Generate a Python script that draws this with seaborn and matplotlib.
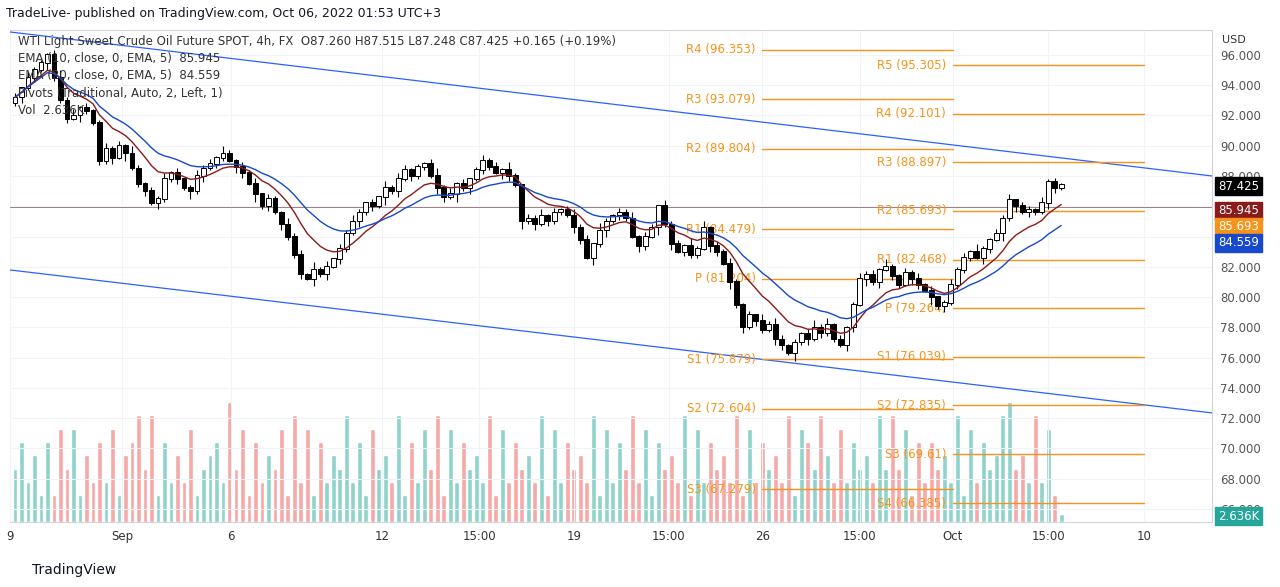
import numpy as np
import pandas as pd
import seaborn as sns
import matplotlib.pyplot as plt

sns.set_theme(style="white")
plt.rcParams['font.family'] = 'DejaVu Sans'

# 4h closes, WTI spot
closes = [93.2, 93.8, 94.5, 95.0, 95.5, 96.0,
          94.5, 93.0, 91.8, 92.0, 92.5, 92.3, 91.5, 89.0,
          89.8, 89.2, 90.0, 89.5, 88.5, 87.5, 87.0, 86.2,
          86.5, 87.8, 88.2, 87.8, 87.2, 87.0, 88.0, 88.5,
          88.8, 89.2, 89.5, 89.0, 88.6, 88.2, 87.5, 86.8, 86.0,
          86.5, 85.6, 84.8, 84.0, 82.8, 81.5,
          81.2, 81.8, 81.5, 82.0,
          82.5, 83.2, 84.2, 85.0, 85.6, 86.2, 86.0, 86.6, 87.2, 87.0,
          87.8, 88.4, 88.0, 88.6, 88.8, 88.0, 87.2, 86.6,
          86.8, 87.5, 87.2, 87.8, 88.4, 89.0,
          88.6, 88.2, 88.4, 88.0, 87.4, 85.0,
          85.2, 84.8, 85.4, 85.0, 85.6, 85.8, 85.4, 84.6, 83.8, 82.6,
          83.5, 84.4, 85.0, 85.4, 85.6, 85.2, 84.0, 83.4, 84.0, 84.6, 86.0,
          84.8, 83.5, 83.0, 83.4, 82.8, 83.2,
          84.6, 83.4, 83.0, 82.2, 81.0, 79.5, 78.0,
          78.8, 78.4, 77.8, 78.2, 77.2, 76.8, 76.3,
          77.0, 77.6, 77.2, 78.0, 77.6, 78.2, 77.2, 76.8, 78.0,
          79.5, 81.2, 81.5, 81.0, 81.8, 82.0, 81.4, 80.8, 81.6, 81.2, 80.8, 80.4, 80.0,
          79.4, 79.6, 80.8, 81.8, 82.6,
          83.0, 82.6, 83.2, 83.8, 84.2, 85.2, 86.4,
          86.0, 85.6, 85.8, 85.6, 86.2, 87.6, 87.2, 87.425]
first_open = 92.8
# wick lengths in tenths of a dollar
wick_hi = ("3142213524131242315213241312423152132413214231524132"
           "4213152431213524131242315213241312423152132413214231"
           "5241324213152431213524131242315213241312423152132413"
           "214231")
wick_lo = ("2413152231421324151231422315241321431523142231524132"
           "1423152413221431524132143152413221431524132143152413"
           "2214315241321431524132214315241321431524132214315241"
           "321431")
# volume (relative units)
volume = ("4635262747253637256848263537245639472635472837263548"
          "3627453826374827364538273645382736453827364837264538"
          "2736453827364538276485373645384847263645382736458945"
          "383727")

piv1 = {"R4": 96.353, "R3": 93.079, "R2": 89.804, "R1": 84.479,
        "P": 81.204, "S1": 75.879, "S2": 72.604, "S3": 67.279}
piv2 = {"R5": 95.305, "R4": 92.101, "R3": 88.897, "R2": 85.693, "R1": 82.468,
        "P": 79.264, "S1": 76.039, "S2": 72.835, "S3": 69.61, "S4": 66.385}
tick_pos = [-0.77, 16.5, 33.2, 56.5, 71.4, 86, 100.6, 115, 130, 144.3, 159, 173.8]
tick_lab = ["9", "Sep", "6", "12", "15:00", "19", "15:00", "26", "15:00", "Oct", "15:00", "10"]

c = np.array(closes)
o = np.r_[first_open, c[:-1]]
hi = np.maximum(o, c) + np.array([int(d) for d in wick_hi[:len(c)]]) / 10
lo = np.minimum(o, c) - np.array([int(d) for d in wick_lo[:len(c)]]) / 10
vol = np.array([int(d) for d in volume[:len(c)]], float)
vol[-1] = 0.6
idx = np.arange(len(c))
df = pd.DataFrame({"i": idx, "ema10": pd.Series(c).ewm(span=10).mean(),
                   "ema20": pd.Series(c).ewm(span=20).mean()})

fig = plt.figure(figsize=(12.8, 5.87), dpi=100)
ax = fig.add_axes([10/1280, 65/587, 1202/1280, 492/587])
xmin, xmax, ymin, ymax = -0.77, 184.2, 65.13, 97.65
ax.set_xlim(xmin, xmax); ax.set_ylim(ymin, ymax)

# volume
axv = ax.twinx()
axv.set_ylim(0, vol.max() * 4.1)
up = c >= o
axv.bar(idx, vol, width=0.75, color=np.where(up, "#8fd3cb", "#f6a9a6"), zorder=1)
axv.axis("off")
ax.set_zorder(axv.get_zorder() + 1); ax.patch.set_visible(False)

for y in range(66, 97, 2):
    ax.axhline(y, color="#f0f3fa", lw=0.8, zorder=0)
for t in tick_pos:
    ax.axvline(t, color="#f0f3fa", lw=0.8, zorder=0)

# channel
ax.plot([xmin, xmax], [97.52, 88.0], color="#2962ff", lw=0.9)
ax.plot([xmin, xmax], [81.79, 72.34], color="#2962ff", lw=0.9)
ax.axhline(85.945, color="#a08080", lw=0.7)

# pivots
orange = "#f7931a"
for piv, x0, x1 in [(piv1, 115, 144.3), (piv2, 144.3, 173.8)]:
    for k, v in piv.items():
        ax.plot([x0, x1], [v, v], color=orange, lw=1)
        ax.text(x0 - 1.0, v, f"{k} ({v})", color=orange, fontsize=8.5,
                ha="right", va="center")

# candles
ax.vlines(idx, lo, hi, color="black", lw=0.8, zorder=3)
ax.bar(idx, np.abs(c - o) + 0.05, bottom=np.minimum(o, c), width=0.75,
       color=np.where(up, "white", "black"), edgecolor="black", lw=0.7, zorder=4)

sns.lineplot(data=df, x="i", y="ema10", ax=ax, color="#8b1a1a", lw=1, zorder=5)
sns.lineplot(data=df, x="i", y="ema20", ax=ax, color="#1848cc", lw=1, zorder=5)

ax.set_xlabel(""); ax.set_ylabel("")
ax.yaxis.tick_right()
ax.set_yticks(range(66, 97, 2))
ax.set_yticklabels([f"{v:.3f}" for v in range(66, 97, 2)], fontsize=8.5, color="#555")
ax.set_xticks(tick_pos)
ax.set_xticklabels(tick_lab, fontsize=8.5, color="#333")
ax.tick_params(length=0, pad=6)
for s in ax.spines.values():
    s.set_color("#d1d4dc"); s.set_linewidth(0.8)
ax.spines["left"].set_visible(False)

# price tags (stacked like TradingView so they don't overlap)
for ypix, col, txt in [(186, "black", "87.425"), (211, "#8b1a1a", "85.945"),
                       (227, orange, "85.693"), (243, "#1848cc", "84.559"),
                       (516, "#26a69a", "2.636K")]:
    fig.text(1218/1280, 1 - ypix/587, txt, color="white", fontsize=8.5,
             va="center", ha="left",
             bbox=dict(boxstyle="square,pad=0.25", fc=col, ec=col))
fig.text(1222/1280, 1 - 40/587, "USD", fontsize=8, color="#333", va="center")

fig.text(6/1280, 1 - 14/587, "TradeLive- published on TradingView.com, Oct 06, 2022 01:53 UTC+3",
         fontsize=9, va="center", color="#131722")
leg = ["WTI Light Sweet Crude Oil Future SPOT, 4h, FX  O87.260 H87.515 L87.248 C87.425 +0.165 (+0.19%)",
       "EMA (10, close, 0, EMA, 5)  85.945", "EMA (20, close, 0, EMA, 5)  84.559",
       "Pivots (Traditional, Auto, 2, Left, 1)", "Vol  2.636K"]
for k, s in enumerate(leg):
    fig.text(18/1280, 1 - (41 + k * 17.5)/587, s, fontsize=8.5, va="center", color="#333")
fig.text(32/1280, 1 - 570/587, "TradingView", fontsize=10, va="center", color="#131722")

fig.savefig("out.png", dpi=100)
